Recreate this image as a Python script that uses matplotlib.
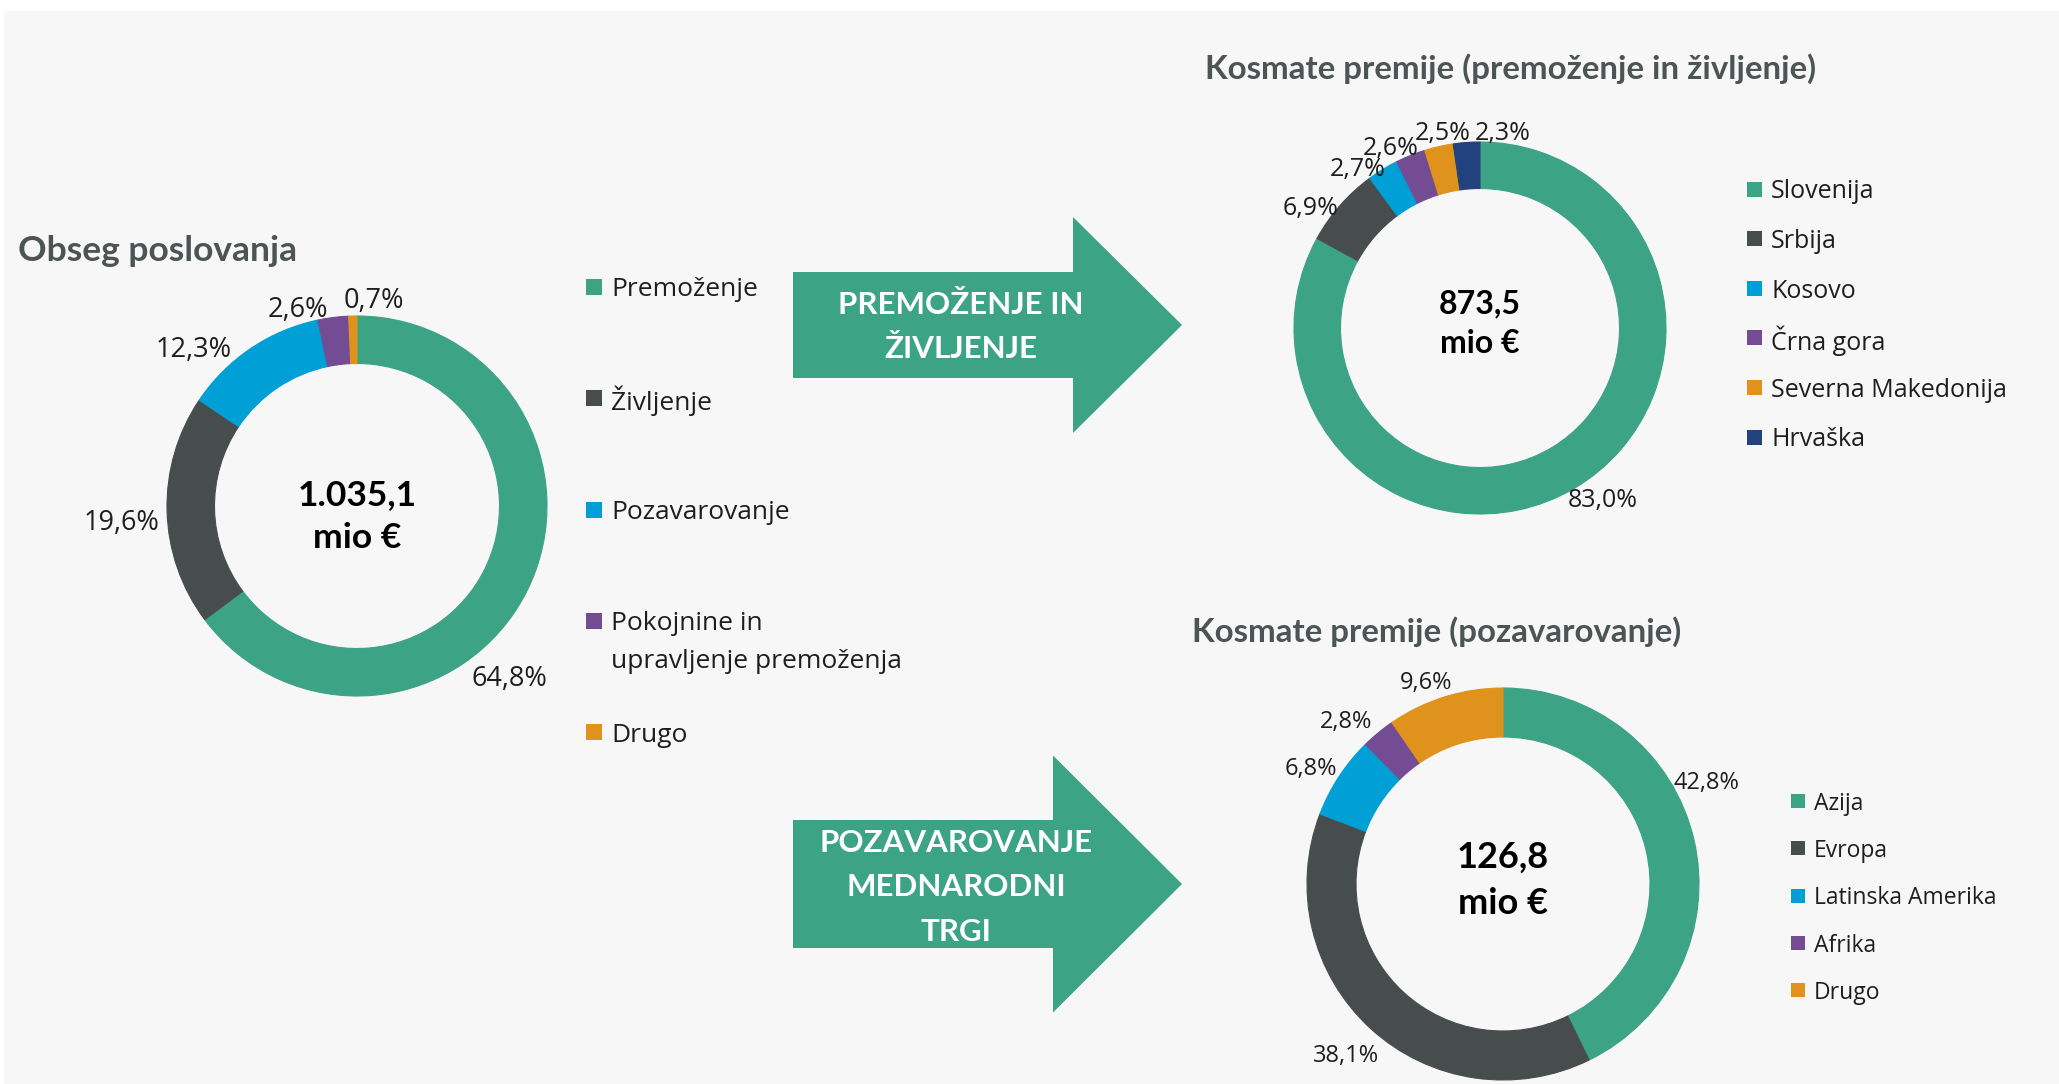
import matplotlib.pyplot as plt
from matplotlib.patches import Polygon, Rectangle

W, H = 2059, 1084

# --- data ---------------------------------------------------------------
obseg_names = ['Premoženje', 'Življenje', 'Pozavarovanje',
               'Pokojnine in\nupravljenje premoženja', 'Drugo']
obseg_share = [64.8, 19.6, 12.3, 2.6, 0.7]
obseg_total = '1.035,1'

pz_names = ['Slovenija', 'Srbija', 'Kosovo', 'Črna gora',
            'Severna Makedonija', 'Hrvaška']
pz_share = [83.0, 6.9, 2.7, 2.6, 2.5, 2.3]
pz_total = '873,5'

poz_names = ['Azija', 'Evropa', 'Latinska Amerika', 'Afrika', 'Drugo']
poz_share = [42.8, 38.1, 6.8, 2.8, 9.6]
poz_total = '126,8'

GREEN, GREY, BLUE = '#3ca384', '#474d4d', '#009fd6'
PURPLE, ORANGE, NAVY = '#744c93', '#df931c', '#21427f'
obseg_colors = [GREEN, GREY, BLUE, PURPLE, ORANGE]
pz_colors = [GREEN, GREY, BLUE, PURPLE, ORANGE, NAVY]
poz_colors = [GREEN, GREY, BLUE, PURPLE, ORANGE]

# where the % labels sit, in donut radii from the centre (Excel best fit)
obseg_lab = [(0.80, -0.89), (-1.24, -0.07), (-0.86, 0.84), (-0.31, 1.05), (0.09, 1.10)]
pz_lab = [(0.66, -0.91), (-0.91, 0.66), (-0.66, 0.87), (-0.48, 0.98), (-0.20, 1.06), (0.12, 1.06)]
poz_lab = [(1.04, 0.53), (-0.80, -0.86), (-0.98, 0.60), (-0.80, 0.84), (-0.39, 1.04)]

plt.rcParams['font.family'] = ['Open Sans', 'DejaVu Sans']
BOLD = ['Lato', 'DejaVu Sans']
TXT = '#1e1e1e'
TITLE = '#4d5454'

fig = plt.figure(figsize=(W / 100, H / 100), dpi=100, facecolor='white')
bg = fig.add_axes([0, 0, 1, 1])
bg.set_xlim(0, W)
bg.set_ylim(H, 0)
bg.axis('off')
bg.add_patch(Rectangle((4, 11), W, H, color='#f7f7f7', zorder=0))


def pct(v):
    return f'{v:.1f}%'.replace('.', ',')


def donut(cx, cy, r, values, colors, lab_pos, lab_size):
    ax = fig.add_axes([(cx - 1.25 * r) / W, 1 - (cy + 1.25 * r) / H,
                       2.5 * r / W, 2.5 * r / H])
    wedges, _ = ax.pie(values, colors=colors, startangle=90, counterclock=False,
                       wedgeprops=dict(width=0.25, linewidth=0.8))
    for w in wedges:
        w.set_edgecolor(w.get_facecolor())
    for v, (dx, dy) in zip(values, lab_pos):
        ax.text(dx, dy, pct(v), ha='center', va='center_baseline',
                fontsize=lab_size, color=TXT)
    ax.set_xlim(-1.25, 1.25)
    ax.set_ylim(-1.25, 1.25)
    ax.axis('off')


def total(cx, y1, y2, txt, size):
    bg.text(cx, y1, txt, ha='center', va='baseline', fontsize=size,
            family=BOLD, weight='bold', color='black')
    bg.text(cx, y2, 'mio €', ha='center', va='baseline', fontsize=size,
            family=BOLD, weight='bold', color='black')


def legend(x, y0, step, names, colors, size, sq, line_gap=38):
    for i, (name, c) in enumerate(zip(names, colors)):
        y = y0 + i * step
        bg.add_patch(Rectangle((x, y - sq / 2), sq, sq, color=c, lw=0))
        for j, line in enumerate(name.split('\n')):
            bg.text(x + sq + 9, y + j * line_gap, line, ha='left',
                    va='center_baseline', fontsize=size, color=TXT)


def arrow(x0, xh, xt, yc, bh, hh, lines, tx, ty0, step):
    pts = [(x0, yc - bh), (xh, yc - bh), (xh, yc - hh), (xt, yc),
           (xh, yc + hh), (xh, yc + bh), (x0, yc + bh)]
    bg.add_patch(Polygon(pts, closed=True, color=GREEN, lw=0))
    for k, line in enumerate(lines):
        bg.text(tx, ty0 + k * step, line, ha='center', va='baseline',
                fontsize=22.5, family=BOLD, weight='bold', color='white')


# titles
bg.text(18, 261, 'Obseg poslovanja', ha='left', va='baseline', fontsize=25.5,
        family=BOLD, weight='bold', color=TITLE)
bg.text(1205, 79, 'Kosmate premije (premoženje in življenje)', ha='left',
        va='baseline', fontsize=23.8, family=BOLD, weight='bold', color=TITLE)
bg.text(1192, 642, 'Kosmate premije (pozavarovanje)', ha='left',
        va='baseline', fontsize=23.8, family=BOLD, weight='bold', color=TITLE)

# donuts
donut(357, 506, 190, obseg_share, obseg_colors, obseg_lab, 19.5)
donut(1480, 328, 186, pz_share, pz_colors, pz_lab, 18)
donut(1503, 884, 196, poz_share, poz_colors, poz_lab, 17)

total(357, 505, 548, obseg_total, 25.5)
total(1480, 313, 353, pz_total, 23)
total(1503, 868, 914, poz_total, 26)

# legends
legend(586, 287, 111.25, obseg_names, obseg_colors, 19, 16)
legend(1747, 189, 49.6, pz_names, pz_colors, 18, 15)
legend(1791, 801, 47.25, poz_names, poz_colors, 16.5, 14)

# arrows
arrow(793, 1073, 1182, 325, 53, 108, ['PREMOŽENJE IN', 'ŽIVLJENJE'], 961, 314, 44)
arrow(793, 1053, 1182, 884, 64, 128.5, ['POZAVAROVANJE', 'MEDNARODNI', 'TRGI'], 956, 852, 44.5)

fig.savefig('out.png', dpi=100, facecolor='white')
